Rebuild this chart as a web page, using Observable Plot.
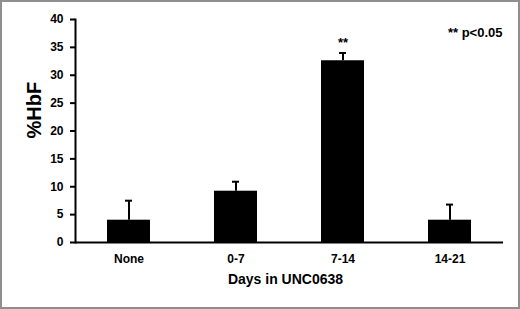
<!DOCTYPE html>
<html><head><meta charset="utf-8">
<script src="https://cdn.jsdelivr.net/npm/d3@7"></script>
<script src="https://cdn.jsdelivr.net/npm/@observablehq/plot@0.6"></script>
<style>
body{margin:0;background:#fff}
#wrap{position:relative;width:520px;height:309px}
#border{position:absolute;left:0;top:0;width:520px;height:309px;box-sizing:border-box;border:2px solid #8f8f8f;pointer-events:none}
</style></head><body>
<div id="wrap"><div id="border"></div></div>
<script>
const categories = ["None", "0-7", "7-14", "14-21"];
const means = [4.0, 9.2, 32.6, 4.0];
const errors = [3.5, 1.7, 1.4, 2.8];
const significance = ["", "", "**", ""];
const yTicks = [0, 5, 10, 15, 20, 25, 30, 35, 40];
const yLabel = "%HbF";
const xLabel = "Days in UNC0638";
const note = "** p<0.05";

const data = categories.map((c, i) => ({cat: c, mean: means[i], top: means[i] + errors[i], sig: significance[i]}));
const font = "'Liberation Sans', Arial, Helvetica, sans-serif";
const chart = Plot.plot({
  width: 520, height: 309, marginLeft: 75, marginRight: 17, marginTop: 19, marginBottom: 67,
  style: {fontFamily: font, fontWeight: "bold", fontSize: "12px", color: "#000", background: "transparent"},
  x: {domain: categories, paddingInner: 0.6, paddingOuter: 0.3, label: null},
  y: {domain: [0, 40], label: null},
  marks: [
    Plot.barY(data, {x: "cat", y: "mean", fill: "#000"}),
    Plot.ruleX(data, {x: "cat", y1: "mean", y2: "top", stroke: "#000", strokeWidth: 2}),
    Plot.tickY(data, {x: "cat", y: "top", stroke: "#000", strokeWidth: 2, insetLeft: 18, insetRight: 18}),
    Plot.text(data.filter(d => d.sig), {x: "cat", y: "top", text: "sig", dy: -10, fontSize: 13, fontWeight: "bold"}),
    Plot.axisY({ticks: yTicks, tickSize: 5, tickPadding: 7, tickFormat: d => d, strokeWidth: 2, fontSize: 12, fontWeight: "bold", label: null}),
    Plot.axisX({tickSize: 0, tickPadding: 12, fontSize: 12, fontWeight: "bold", label: null}),
    Plot.frame({anchor: "left", strokeWidth: 2}),
    Plot.ruleY([0], {strokeWidth: 2}),
    Plot.text([yLabel], {frameAnchor: "left", rotate: -90, dx: -40.5, dy: 7.5, fontSize: 20, fontWeight: "bold"}),
    Plot.text([xLabel], {frameAnchor: "bottom", dx: -4, dy: 41, fontSize: 14, fontWeight: "bold"}),
    Plot.text([note], {frameAnchor: "top-right", textAnchor: "end", lineAnchor: "top", dx: -1, dy: 8, fontSize: 13, fontWeight: "bold"})
  ]
});
document.getElementById("wrap").appendChild(chart);
</script>
</body></html>
